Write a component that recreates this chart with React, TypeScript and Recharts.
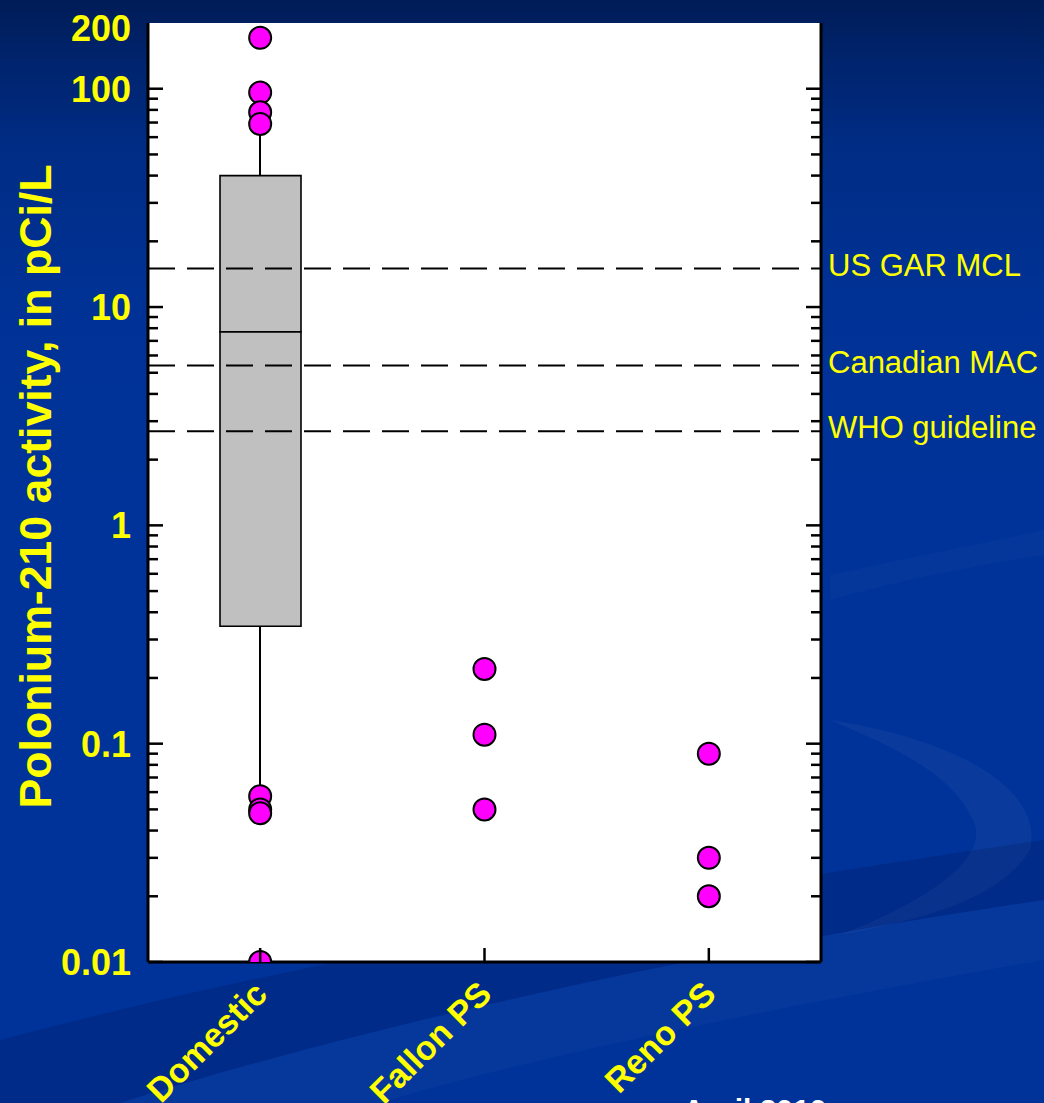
import React from "react";
import {
  Bar,
  CartesianGrid,
  ComposedChart,
  ReferenceLine,
  Scatter,
  XAxis,
  YAxis,
} from "recharts";

const categories = ["Domestic", "Fallon PS", "Reno PS"];
const whiskerLow = [0.06, undefined, undefined];
const quartileLow = [0.345, undefined, undefined];
const medians = [7.7, undefined, undefined];
const quartileHigh = [40, undefined, undefined];
const whiskerHigh = [69, undefined, undefined];

const domesticPoints = [171, 96, 78, 69, 0.0575, 0.05, 0.048, 0.01];
const fallonPoints = [0.22, 0.11, 0.05];
const renoPoints = [0.09, 0.03, 0.02];

const guideValues = [15, 5.4, 2.7];
const guideLabels = ["US GAR MCL", "Canadian MAC", "WHO guideline"];

const labeledTicks = [0.01, 0.1, 1, 10, 100, 200];
const decadeTicks = [0.01, 0.1, 1, 10, 100];
const minorTicks = [
  0.02, 0.03, 0.04, 0.05, 0.06, 0.07, 0.08, 0.09,
  0.2, 0.3, 0.4, 0.5, 0.6, 0.7, 0.8, 0.9,
  2, 3, 4, 5, 6, 7, 8, 9,
  20, 30, 40, 50, 60, 70, 80, 90,
];
const allTicks = [...labeledTicks, ...minorTicks].sort((a, b) => a - b);

const FONT = "'Liberation Sans', Arial, sans-serif";
const YELLOW = "#ffff00";

const rows = categories.map((name, i) => {
  const has = medians[i] !== undefined;
  return {
    name,
    lowWhisker: has ? [whiskerLow[i], quartileLow[i]] : undefined,
    lowBox: has ? [quartileLow[i], medians[i]] : undefined,
    highBox: has ? [medians[i], quartileHigh[i]] : undefined,
    highWhisker: has ? [quartileHigh[i], whiskerHigh[i]] : undefined,
  };
});

const outliers = [
  ...domesticPoints.map((value) => ({ name: categories[0], value })),
  ...fallonPoints.map((value) => ({ name: categories[1], value })),
  ...renoPoints.map((value) => ({ name: categories[2], value })),
];

function LeftTick({ x, y, payload }: any) {
  const v = payload.value;
  const axisX = x + 17;
  const isDecade = decadeTicks.includes(v);
  return (
    <g>
      {v !== 200 && (
        <line x1={axisX} x2={axisX + (isDecade ? 15 : 10)} y1={y} y2={y} stroke="#000" strokeWidth={2.5} />
      )}
      {labeledTicks.includes(v) && (
        <text
          x={x}
          y={y + (v === 200 ? 5 : 0)}
          dy="0.36em"
          textAnchor="end"
          fill={YELLOW}
          fontFamily={FONT}
          fontWeight="bold"
          fontSize={36}
        >
          {String(v)}
        </text>
      )}
    </g>
  );
}

function RightTick({ x, y, payload }: any) {
  const v = payload.value;
  if (v === 200) return <g />;
  const isDecade = decadeTicks.includes(v);
  return <line x1={x} x2={x - (isDecade ? 15 : 10)} y1={y} y2={y} stroke="#000" strokeWidth={2.5} />;
}

function CategoryTick({ x, y, payload }: any) {
  return (
    <g>
      <line x1={x} x2={x} y1={y} y2={y - 14} stroke="#000" strokeWidth={2.5} />
      <text
        transform={`translate(${x + 9},${y + 34}) rotate(-45)`}
        textAnchor="end"
        fill={YELLOW}
        fontFamily={FONT}
        fontWeight="bold"
        fontSize={34}
      >
        {payload.value}
      </text>
    </g>
  );
}

function TopTick({ x, y }: any) {
  return <line x1={x} x2={x} y1={y} y2={y + 14} stroke="#000" strokeWidth={2.5} />;
}

function YTitle({ viewBox }: any) {
  const cy = viewBox.y + viewBox.height / 2 - 6;
  return (
    <text
      transform={`translate(${viewBox.x + 51},${cy}) rotate(-90)`}
      textAnchor="middle"
      fill={YELLOW}
      fontFamily={FONT}
      fontWeight="bold"
      fontSize={44}
      textLength={644}
      lengthAdjust="spacingAndGlyphs"
    >
      Polonium-210 activity, in pCi/L
    </text>
  );
}

function guideLabel(text: string) {
  return ({ viewBox }: any) => (
    <text
      x={viewBox.x + viewBox.width + 7}
      y={viewBox.y - 4}
      dy="0.36em"
      fill={YELLOW}
      fontFamily={FONT}
      fontSize={31}
    >
      {text}
    </text>
  );
}

function Dot({ cx, cy }: any) {
  return <circle cx={cx} cy={cy} r={11} fill="#ff00ff" stroke="#000" strokeWidth={2} />;
}

export default function App() {
  return (
    <div
      style={{
        position: "relative",
        width: 1044,
        height: 1103,
        overflow: "hidden",
        background:
          "linear-gradient(180deg, #001c57 0%, #00236b 5%, #002c84 13%, #003296 28%, #003399 45%, #003399 100%)",
      }}
    >
      <style>{"body{margin:0}"}</style>
      <svg width={1044} height={1103} style={{ position: "absolute", left: 0, top: 0 }}>
        <path d="M0,1103 L0,1040 C300,960 700,890 1044,840 L1044,900 C700,950 350,1030 120,1103 Z" fill="rgba(0,20,90,0.25)" />
        <path d="M120,1103 C350,1030 700,950 1044,900 L1044,960 C760,1010 520,1060 380,1103 Z" fill="rgba(255,255,255,0.025)" />
        <path d="M830,720 C960,740 1044,790 1030,850 C1000,900 920,920 840,935 C930,900 985,860 975,825 C955,775 900,750 830,720 Z" fill="rgba(255,255,255,0.035)" />
        <path d="M830,575 C920,555 1000,540 1044,530 L1044,555 C980,565 900,580 830,600 Z" fill="rgba(255,255,255,0.02)" />
        <text x={683} y={1120} fill="#ffffff" fontFamily={FONT} fontWeight="bold" fontSize={30}>
          April 2010
        </text>
      </svg>
      <div style={{ position: "absolute", left: 0, top: 0 }}>
        <ComposedChart
          width={1044}
          height={1103}
          data={rows}
          margin={{ top: 23, right: 213, bottom: 0, left: 0 }}
        >
          <CartesianGrid fill="#ffffff" horizontal={false} vertical={false} />
          <XAxis
            dataKey="name"
            type="category"
            allowDuplicatedCategory={false}
            height={141}
            interval={0}
            tickSize={0}
            tickMargin={0}
            tickLine={false}
            axisLine={{ stroke: "#000", strokeWidth: 3 }}
            tick={<CategoryTick />}
          />
          <XAxis
            xAxisId="top"
            orientation="top"
            dataKey="name"
            type="category"
            allowDuplicatedCategory={false}
            height={0}
            interval={0}
            tickSize={0}
            tickMargin={0}
            tickLine={false}
            axisLine={{ stroke: "#000", strokeWidth: 3 }}
            tick={<TopTick />}
          />
          <XAxis xAxisId="w1" dataKey="name" allowDuplicatedCategory={false} hide />
          <XAxis xAxisId="w2" dataKey="name" allowDuplicatedCategory={false} hide />
          <XAxis xAxisId="b1" dataKey="name" allowDuplicatedCategory={false} hide />
          <XAxis xAxisId="b2" dataKey="name" allowDuplicatedCategory={false} hide />
          <YAxis
            scale="log"
            type="number"
            domain={[0.01, 200]}
            allowDataOverflow
            ticks={allTicks}
            interval={0}
            width={148}
            tickSize={0}
            tickMargin={17}
            tickLine={false}
            axisLine={{ stroke: "#000", strokeWidth: 3 }}
            tick={<LeftTick />}
            label={{ content: <YTitle /> }}
          />
          <YAxis
            yAxisId="right"
            orientation="right"
            scale="log"
            type="number"
            domain={[0.01, 200]}
            allowDataOverflow
            ticks={allTicks}
            interval={0}
            width={10}
            tickSize={0}
            tickMargin={0}
            tickLine={false}
            axisLine={{ stroke: "#000", strokeWidth: 3 }}
            tick={<RightTick />}
          />
          {guideValues.map((v, i) => (
            <ReferenceLine
              key={guideLabels[i]}
              y={v}
              stroke="#000"
              strokeWidth={2}
              strokeDasharray="27 12"
              label={{ content: guideLabel(guideLabels[i]) }}
            />
          ))}
          <Bar xAxisId="w1" dataKey="lowWhisker" barSize={2} fill="#000" isAnimationActive={false} />
          <Bar xAxisId="w2" dataKey="highWhisker" barSize={2} fill="#000" isAnimationActive={false} />
          <Bar
            xAxisId="b1"
            dataKey="lowBox"
            barSize={81}
            fill="#c0c0c0"
            stroke="#000"
            strokeWidth={1.6}
            isAnimationActive={false}
          />
          <Bar
            xAxisId="b2"
            dataKey="highBox"
            barSize={81}
            fill="#c0c0c0"
            stroke="#000"
            strokeWidth={1.6}
            isAnimationActive={false}
          />
          <Scatter data={outliers} dataKey="value" shape={<Dot />} isAnimationActive={false} />
        </ComposedChart>
      </div>
    </div>
  );
}
